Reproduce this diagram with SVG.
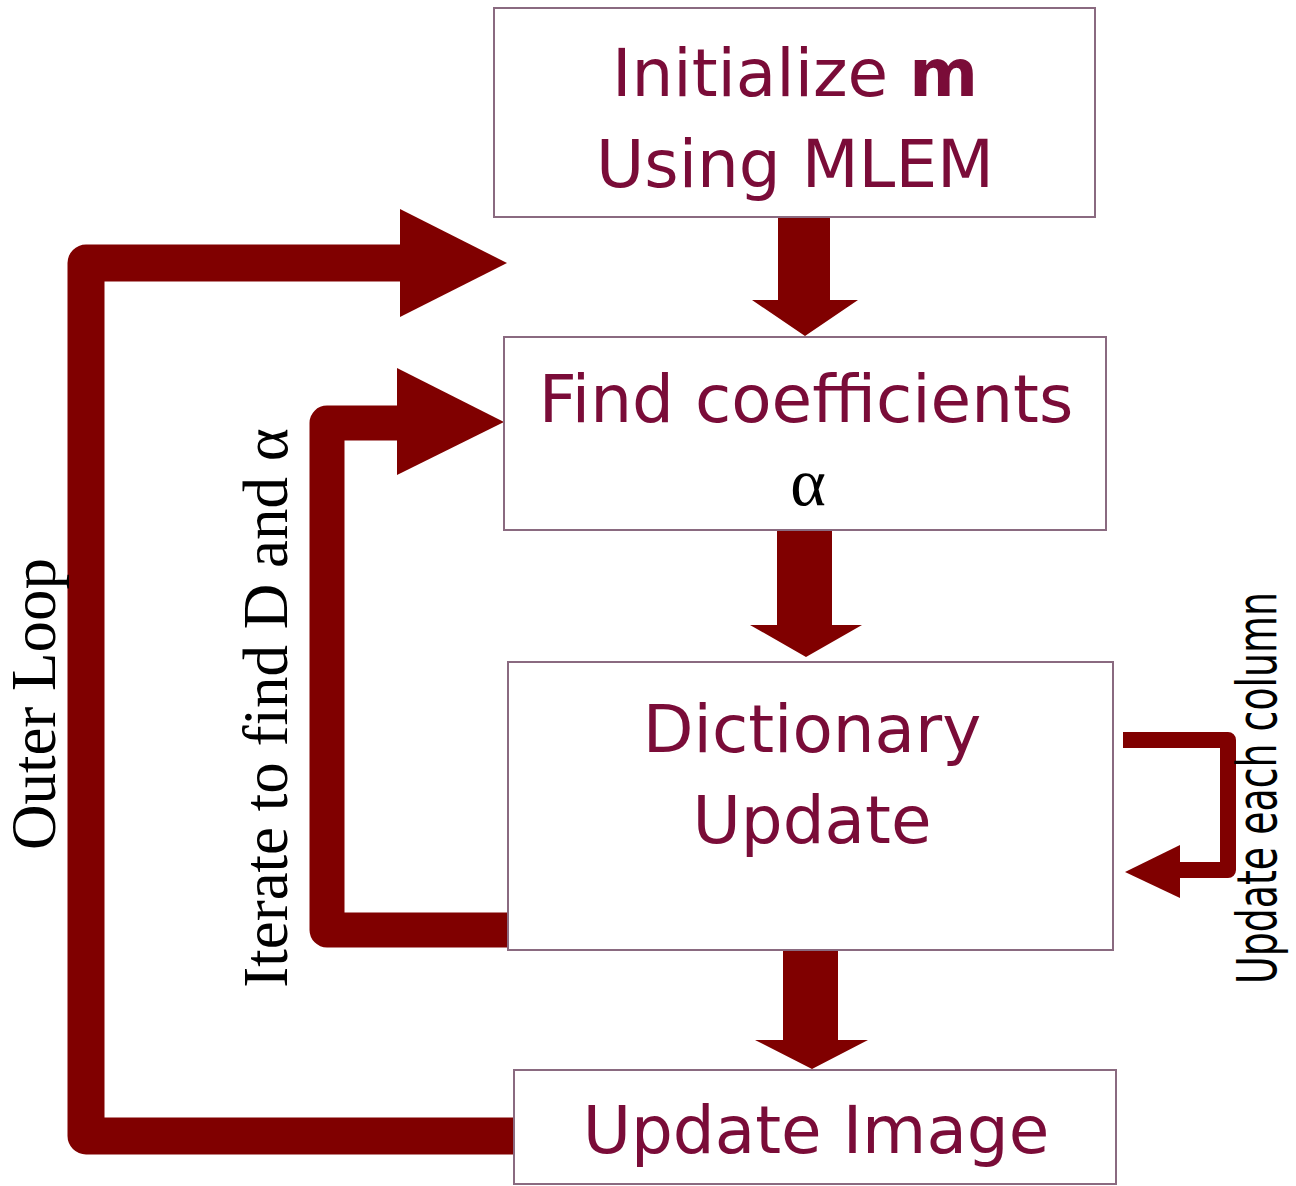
<svg xmlns="http://www.w3.org/2000/svg" width="1296" height="1186" viewBox="0 0 1296 1186">
  <style>
    .box { fill: #ffffff; stroke: #8a6a80; stroke-width: 2; }
    .lbl { font-family: "DejaVu Sans", "Liberation Sans", sans-serif; font-size: 66px; fill: #7a0c38; text-anchor: middle; }
    .serif { font-family: "Liberation Serif", "DejaVu Serif", serif; fill: #000000; text-anchor: middle; }
    .sans { font-family: "DejaVu Sans", "Liberation Sans", sans-serif; fill: #000000; text-anchor: middle; }
    .loop { fill: none; stroke: #800000; stroke-linejoin: round; }
    .arr { fill: #800000; }
  </style>
  <rect width="1296" height="1186" fill="#ffffff"/>

  <g id="connectors">
    <!-- Initialize -> Find coefficients -->
    <polygon class="arr" points="778,217 830,217 830,300 858,300 805,336 752,300 778,300"/>
    <!-- Find coefficients -> Dictionary -->
    <polygon class="arr" points="777,530 832,530 832,625 862,625 806,657 750,625 777,625"/>
    <!-- Dictionary -> Update Image -->
    <polygon class="arr" points="783,950 838,950 838,1040 868,1040 812,1069 755,1040 783,1040"/>
    <!-- Outer loop -->
    <path class="loop" stroke-width="37" d="M514,1136 L86,1136 L86,263 L402,263"/>
    <polygon class="arr" points="400,209 507,263 400,317"/>
    <!-- Inner loop -->
    <path class="loop" stroke-width="35" d="M508,930 L327,930 L327,423 L400,423"/>
    <polygon class="arr" points="397,368 504,422 397,475"/>
    <!-- Update each column loop -->
    <path class="loop" stroke-width="16" d="M1123,740 L1228,740 L1228,870 L1178,870"/>
    <polygon class="arr" points="1180,845 1125,872 1180,898"/>
  </g>

  <g id="node-init">
    <rect class="box" x="494" y="8" width="601" height="209"/>
    <text class="lbl" x="795" y="96">Initialize <tspan font-weight="bold">m</tspan></text>
    <text class="lbl" x="795" y="187">Using MLEM</text>
  </g>

  <g id="node-coeff">
    <rect class="box" x="504" y="337" width="602" height="193"/>
    <text class="lbl" x="806" y="422">Find coefficients</text>
    <text class="serif" x="808" y="505" font-size="68">α</text>
  </g>

  <g id="node-dict">
    <rect class="box" x="508" y="662" width="605" height="288"/>
    <text class="lbl" x="812" y="752">Dictionary</text>
    <text class="lbl" x="812" y="843">Update</text>
  </g>

  <g id="node-image">
    <rect class="box" x="514" y="1070" width="602" height="114"/>
    <text class="lbl" x="816" y="1153">Update Image</text>
  </g>

  <g id="labels">
    <text class="serif" font-size="63" transform="translate(55,704) rotate(-90)">Outer Loop</text>
    <text class="serif" font-size="63" transform="translate(287,708) rotate(-90)">Iterate to find D and α</text>
    <text class="sans" font-size="56" textLength="392" lengthAdjust="spacingAndGlyphs" transform="translate(1276,788) rotate(-90)">Update each column</text>
  </g>
</svg>
